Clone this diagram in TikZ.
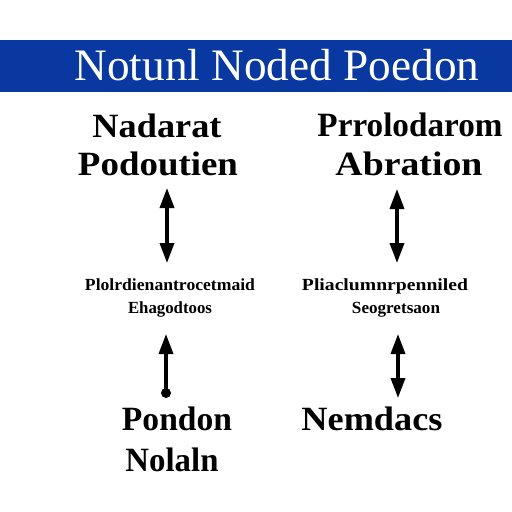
\documentclass[tikz,border=0pt]{standalone}
\usepackage{fontspec}
\usepackage{graphicx}
\setmainfont{Liberation Serif}
\usetikzlibrary{arrows.meta}
\definecolor{bandblue}{RGB}{8,56,160}
\newcommand{\fitw}[2]{\resizebox{#1}{\height}{#2}}
\tikzset{
  big/.style={font=\fontsize{34}{36}\selectfont\bfseries, inner sep=0pt, anchor=base},
  small/.style={font=\fontsize{17}{19}\selectfont\bfseries, inner sep=0pt, anchor=base},
  title/.style={font=\fontsize{45}{48}\selectfont, text=white, inner sep=0pt, anchor=base},
  tip/.style={Triangle[width=14pt,length=20pt]},
  dbl/.style={line width=3.5pt, {Triangle[width=14pt,length=20pt]}-{Triangle[width=14pt,length=20pt]}}
}
\begin{document}
\begin{tikzpicture}[x=1pt,y=-1pt]
\useasboundingbox (0,0) rectangle (512,512);
\fill[white] (0,0) rectangle (512,512);
\fill[bandblue] (0,40) rectangle (512,92);
\node[title] (title) at (277,80) {\fitw{405pt}{Notunl Noded Poedon}};
% left column
\node[big] (la) at (157,137) {\fitw{129pt}{Nadarat}};
\node[big] (lb) at (158,175) {\fitw{160pt}{Podoutien}};
\node[small] (lc) at (170,290) {\fitw{170pt}{Plolrdienantrocetmaid}};
\node[small] (ld) at (170,313) {\fitw{84pt}{Ehagodtoos}};
\node[big] (le) at (177,430) {\fitw{110pt}{Pondon}};
\node[big] (lf) at (172,471) {\fitw{93pt}{Nolaln}};
% right column
\node[big] (ra) at (410,136) {\fitw{185pt}{Prrolodarom}};
\node[big] (rb) at (409,175) {\fitw{147pt}{Abration}};
\node[small] (rc) at (385,290) {\fitw{166pt}{Pliaclumnrpenniled}};
\node[small] (rd) at (396,313) {\fitw{88pt}{Seogretsaon}};
\node[big] (re) at (372,430) {\fitw{141pt}{Nemdacs}};
% arrow end points
\coordinate (l1t) at (167,188);
\coordinate (l1b) at (167,263);
\coordinate (l2t) at (166,334);
\coordinate (l2b) at (166,393);
\coordinate (r1t) at (397,189);
\coordinate (r1b) at (397,263);
\coordinate (r2t) at (398,334);
\coordinate (r2b) at (398,398);
\draw[dbl] (l1t) -- (l1b);
\draw[line width=3.5pt, -{Triangle[width=14pt,length=20pt]}] (l2b) -- (l2t);
\fill (l2b) circle (5pt);
\draw[dbl] (r1t) -- (r1b);
\draw[dbl] (r2t) -- (r2b);
\end{tikzpicture}
\end{document}
